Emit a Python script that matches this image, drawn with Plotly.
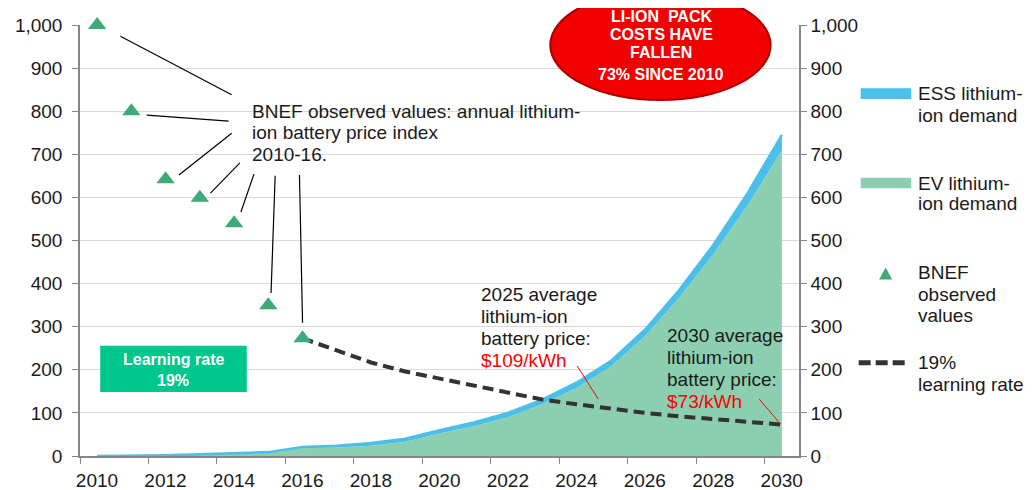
import plotly.graph_objects as go

# demand (stacked area) and price series
years = list(range(2010, 2031))
ev_demand = [0, 0.5, 1.5, 3, 4.5, 7, 18, 20, 24, 33, 52, 69, 90, 120, 158, 207, 278, 367, 468, 582, 709]
ess_demand = [0, 0, 0.5, 1, 1.5, 2, 3, 4, 6, 7, 8, 9, 10, 11, 12, 13, 15, 18, 22, 28, 36]
bnef_years = [2010, 2011, 2012, 2013, 2014, 2015, 2016]
bnef_price = [1000, 800, 642, 599, 540, 350, 273]
lr_years = list(range(2016, 2031))
lr_price = [273, 245, 217, 196, 180, 162, 146, 131, 120, 109, 100, 92, 85, 79, 73]
y_ticks = list(range(0, 1001, 100))
x_labels = years[::2]

FONT = "Liberation Sans, Arial, sans-serif"
TXT = "#1a1a1a"
total = [e + s for e, s in zip(ev_demand, ess_demand)]

fig = go.Figure()
fig.add_trace(go.Scatter(x=years, y=ev_demand, mode="lines", fill="tozeroy",
                         fillcolor="#8CCFB0", line=dict(width=0, color="#8CCFB0"),
                         name="EV lithium-ion demand"))
fig.add_trace(go.Scatter(x=years, y=total, mode="lines", fill="tonexty",
                         fillcolor="#4BBFE7", line=dict(width=2.5, color="#4BBFE7"),
                         name="ESS lithium-ion demand"))
fig.add_trace(go.Scatter(x=lr_years, y=lr_price, mode="lines", yaxis="y2",
                         line=dict(color="#333333", width=4, dash="11px,6px"),
                         name="19% learning rate"))
fig.add_trace(go.Scatter(x=bnef_years, y=bnef_price, mode="markers", yaxis="y2",
                         marker=dict(symbol="triangle-up", size=16, color="#3DAA78"),
                         cliponaxis=False, name="BNEF observed values"))


def text_block(lines, x, y0, step, xref="x", yref="y", **kw):
    for i, t in enumerate(lines):
        fig.add_annotation(x=x, y=y0 - i * step, xref=xref, yref=yref, text=t,
                           showarrow=False, yanchor="middle", **kw)


# callout for observed values
text_block(["BNEF observed values: annual lithium-", "ion battery price index", "2010-16."],
           2014.46, 800, 50, xanchor="left", font=dict(size=19, color=TXT))
pointers = [
    [(2010.68, 974), (2013.93, 838)],
    [(2011.45, 791), (2013.84, 777)],
    [(2012.39, 652), (2013.93, 749)],
    [(2013.31, 610), (2014.17, 680)],
    [(2014.20, 566), (2014.58, 654)],
    [(2015.20, 650), (2015.08, 378)],
    [(2015.91, 652), (2016.00, 309)],
]
for (xa, ya), (xb, yb) in pointers:
    fig.add_shape(type="line", x0=xa, y0=ya, x1=xb, y1=yb, line=dict(color="black", width=1.2))

# price callouts
text_block(["2025 average", "lithium-ion", "battery price:",
            "<span style='color:#FF0000'>$109/kWh</span>"],
           2021.14, 374, 51, xanchor="left", font=dict(size=19, color=TXT))
text_block(["2030 average", "lithium-ion", "battery price:",
            "<span style='color:#FF0000'>$73/kWh</span>"],
           2026.6, 279, 50.5, xanchor="left", font=dict(size=19, color=TXT))
fig.add_shape(type="line", x0=2024.02, y0=209, x1=2024.64, y1=132, line=dict(color="red", width=1))
fig.add_shape(type="line", x0=2029.34, y0=132, x1=2029.96, y1=74, line=dict(color="red", width=1))

# learning rate box
fig.add_shape(type="rect", x0=2010.09, x1=2014.37, y0=148.5, y1=256, layer="above",
              fillcolor="#00C78C", line=dict(width=0))
text_block(["<b>Learning rate</b>", "<b>19%</b>"], 2012.23, 224, 48,
           xanchor="center", font=dict(size=16, color="white"))

# red ellipse
fig.add_shape(type="circle", xref="paper", yref="paper", x0=0.654, x1=0.9606, y0=0.826, y1=1.081,
              fillcolor="#F20000", line=dict(color="#A80000", width=2), layer="above")
text_block(["<b>LI-ION\u00a0 PACK</b>", "<b>COSTS HAVE</b>", "<b>FALLEN</b>"],
           0.8087, 1.0186, 0.0415, xref="paper", yref="paper", xanchor="center",
           font=dict(size=16, color="white"))
fig.add_annotation(x=0.8087, y=0.884, xref="paper", yref="paper", text="<b>73% SINCE 2010</b>",
                   showarrow=False, xanchor="center", yanchor="middle", font=dict(size=16, color="white"))

# legend drawn by hand
fig.add_shape(type="rect", xref="paper", yref="paper", x0=1.0858, x1=1.1561, y0=0.8283, y1=0.8531,
              fillcolor="#4BBFE7", line=dict(width=0))
fig.add_shape(type="rect", xref="paper", yref="paper", x0=1.0858, x1=1.1561, y0=0.6211, y1=0.6457,
              fillcolor="#8CCFB0", line=dict(width=0))
fig.add_shape(type="path", xref="paper", yref="paper",
              path="M 1.1114,0.4095 L 1.1296,0.4095 L 1.1205,0.4374 Z",
              fillcolor="#3DAA78", line=dict(width=0))
fig.add_shape(type="line", xref="paper", yref="paper", x0=1.083, x1=1.1505, y0=0.2165, y1=0.2165,
              line=dict(color="#333333", width=5, dash="12px,5px"))
leg_font = dict(size=19, color=TXT)
text_block(["ESS lithium-", "ion demand"], 1.1632, 841, 52, xref="paper", xanchor="left", font=leg_font)
text_block(["EV lithium-", "ion demand"], 1.1632, 633, 48, xref="paper", xanchor="left", font=leg_font)
text_block(["BNEF", "observed", "values"], 1.1632, 425, 50, xref="paper", xanchor="left", font=leg_font)
text_block(["19%", "learning rate"], 1.1632, 217, 50, xref="paper", xanchor="left", font=leg_font)

axis_common = dict(range=[0, 1000], tickvals=y_ticks, tickformat=",", showline=True,
                   linecolor="#868686", linewidth=1.5, ticks="outside", ticklen=6,
                   tickcolor="#868686", tickfont=dict(size=19, color=TXT), zeroline=False,
                   automargin=False)
# page body has an 8px margin, so the figure is 8px smaller and shifted
fig.update_layout(
    width=1025, height=482,
    margin=dict(l=72, r=234, t=17, b=34),
    paper_bgcolor="white", plot_bgcolor="white",
    showlegend=False,
    font=dict(family=FONT, color=TXT),
    xaxis=dict(range=[2009.5, 2030.5], tickvals=[y - 0.5 for y in x_labels],
               ticktext=[str(y) for y in x_labels], ticklabelshift=17,
               ticks="outside", ticklen=6, tickcolor="#868686", showline=True,
               linecolor="#868686", linewidth=1.5, showgrid=False, zeroline=False,
               tickfont=dict(size=19, color=TXT), automargin=False),
    yaxis=dict(**axis_common, showgrid=True, gridcolor="#D9D9D9", gridwidth=1.3,
               ticklabelstandoff=6),
    yaxis2=dict(**axis_common, overlaying="y", side="right", showgrid=False,
                ticklabelstandoff=0),
)

fig.write_html("out.html")
